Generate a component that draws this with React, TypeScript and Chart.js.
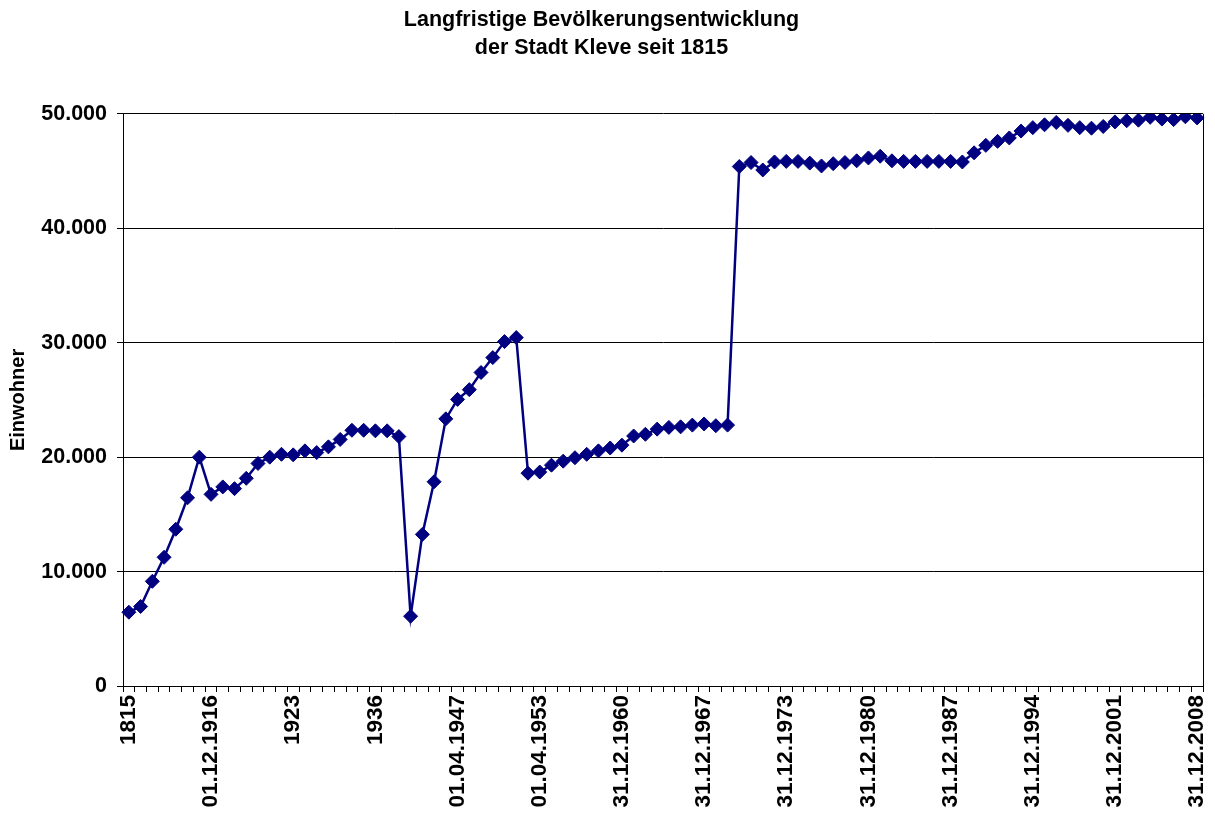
import React, { useEffect, useRef } from "react";
import { Chart, registerables } from "chart.js";

Chart.register(...registerables);

const titleLines = ["Langfristige Bevölkerungsentwicklung", "der Stadt Kleve seit 1815"];
const yAxisTitle = "Einwohner";

// Labels shown on the x axis (every 7th category)
const tickLabels = [
  "1815", "01.12.1916", "1923", "1936", "01.04.1947", "01.04.1953", "31.12.1960",
  "31.12.1967", "31.12.1973", "31.12.1980", "31.12.1987", "31.12.1994", "31.12.2001", "31.12.2008",
];
const labelEvery = 7;

// Population values (Einwohner), one per category
const population = [
  6450, 6950, 9150, 11250, 13700, 16450, 20000, 16750, 17400, 17250,
  18150, 19450, 20000, 20250, 20200, 20550, 20400, 20900, 21550, 22350,
  22350, 22300, 22300, 21800, 6100, 13250, 17850, 23350, 25050, 25900,
  27400, 28700, 30100, 30450, 18600, 18700, 19300, 19650, 19950, 20250,
  20550, 20800, 21050, 21850, 22000, 22450, 22600, 22650, 22800, 22900,
  22750, 22800, 45400, 45750, 45100, 45800, 45850, 45850, 45700, 45450,
  45650, 45750, 45900, 46150, 46300, 45900, 45850, 45850, 45850, 45850,
  45850, 45800, 46600, 47250, 47600, 47900, 48500, 48800, 49050, 49250,
  49000, 48800, 48750, 48900, 49300, 49400, 49450, 49700, 49550, 49500,
  49750, 49650,
];

const yMin = 0;
const yMax = 50000;
const yStep = 10000;

const categories = population.map((_, i) =>
  i % labelEvery === 0 ? tickLabels[i / labelEvery] ?? "" : ""
);

const fmt = (v: number) => String(Math.round(v)).replace(/\B(?=(\d{3})+(?!\d))/g, ".");

const FONT = "'Liberation Sans', Arial, Helvetica, sans-serif";

const rightBorder = {
  id: "rightBorder",
  afterDraw(chart: any) {
    const { ctx, chartArea } = chart;
    ctx.save();
    ctx.strokeStyle = "#000";
    ctx.lineWidth = 1;
    ctx.beginPath();
    const x = Math.round(chartArea.right) + 0.5;
    ctx.moveTo(x, chartArea.top);
    ctx.lineTo(x, chartArea.bottom);
    ctx.stroke();
    ctx.restore();
  },
};

export default function App() {
  const ref = useRef<HTMLCanvasElement | null>(null);

  useEffect(() => {
    if (!ref.current) return;
    const chart = new Chart(ref.current, {
      type: "line",
      data: {
        labels: categories,
        datasets: [
          {
            data: population,
            borderColor: "#000080",
            backgroundColor: "#000080",
            borderWidth: 2.5,
            pointStyle: "rectRot",
            pointRadius: 7,
            pointBorderWidth: 1,
            pointBackgroundColor: "#000080",
            pointBorderColor: "#000080",
            tension: 0,
          },
        ],
      },
      plugins: [rightBorder],
      options: {
        responsive: false,
        animation: false,
        layout: { padding: { left: 0, right: 12, top: 0, bottom: 0 } },
        plugins: {
          legend: { display: false },
          tooltip: { enabled: false },
          title: {
            display: true,
            text: titleLines,
            color: "#000",
            font: { family: FONT, size: 21.5, weight: "bold", lineHeight: 1.3 },
            padding: { top: 6, bottom: 52 },
          },
        },
        scales: {
          x: {
            type: "category",
            offset: true,
            afterFit: (scale: any) => {
              scale.height = 128;
              scale.paddingLeft = 0;
              scale.paddingRight = 0;
            },
            grid: {
              offset: true,
              drawOnChartArea: false,
              drawTicks: true,
              tickLength: 6,
              color: "#000",
            },
            border: { display: true, color: "#000", width: 1 },
            ticks: {
              autoSkip: false,
              maxRotation: 90,
              minRotation: 90,
              padding: 3,
              color: "#000",
              font: { family: FONT, size: 22.5, weight: "bold" },
            },
          },
          y: {
            min: yMin,
            max: yMax,
            afterFit: (scale: any) => {
              scale.width = 123;
              scale.paddingTop = 0;
              scale.paddingBottom = 0;
            },
            grid: {
              color: "#000",
              lineWidth: 1,
              drawTicks: true,
              tickLength: 6,
            },
            border: { display: true, color: "#000", width: 1 },
            ticks: {
              stepSize: yStep,
              padding: 10,
              color: "#000",
              font: { family: FONT, size: 21.5, weight: "bold" },
              callback: (v: any) => fmt(Number(v)),
            },
            title: {
              display: true,
              text: yAxisTitle,
              color: "#000",
              font: { family: FONT, size: 20, weight: "bold" },
              padding: { top: 6, bottom: 0 },
            },
          },
        },
      },
    });
    return () => chart.destroy();
  }, []);

  return (
    <div style={{ position: "absolute", left: 0, top: 0, width: 1215, height: 814, background: "#fff" }}>
      <canvas ref={ref} width={1215} height={814} style={{ display: "block" }} />
    </div>
  );
}
